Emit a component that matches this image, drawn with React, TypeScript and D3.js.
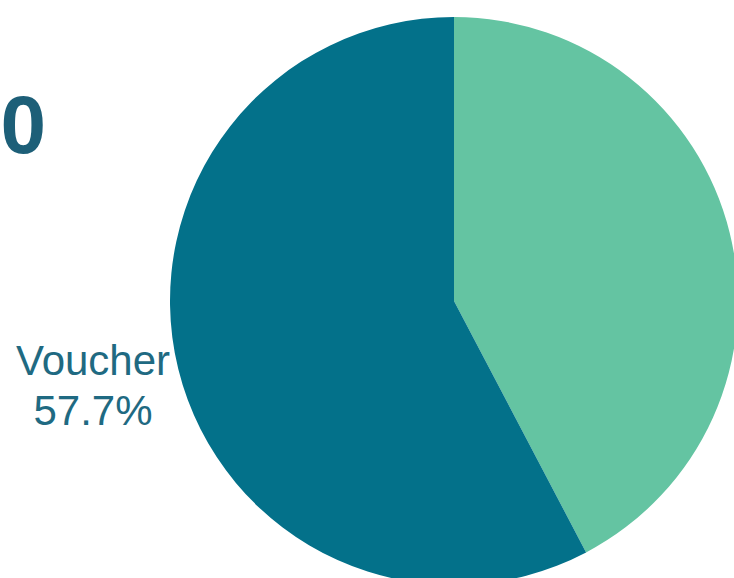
import * as d3 from 'd3';

const categories = ['Other', 'Voucher'];
const shares = [42.3, 57.7];
const colors = ['#64c4a2', '#03718a'];

const W = 734;
const H = 578;
const CX = 454;
const CY = 301;
const R = 284;

export default function App() {
  const pie = d3.pie<number>().sort(null).value((d) => d);
  const arcs = pie(shares);
  const arc = d3.arc<d3.PieArcDatum<number>>().innerRadius(0).outerRadius(R);

  return (
    <svg
      width={W}
      height={H}
      style={{ position: 'absolute', left: 0, top: 0, fontFamily: '"Liberation Sans", Arial, sans-serif' }}
    >
      <rect width={W} height={H} fill="#ffffff" />
      <g transform={`translate(${CX},${CY})`}>
        {arcs.map((a, i) => (
          <path key={categories[i]} d={arc(a) ?? ''} fill={colors[i]} />
        ))}
      </g>
      {/* title tail, cut off by the frame */}
      <text x={46} y={153} textAnchor="end" fontSize={82} fontWeight="bold" fill="#1d5f78">
        0
      </text>
      <text textAnchor="middle" fill="#1f6a82" fontSize={42}>
        <tspan x={93} y={375}>{categories[1]}</tspan>
        <tspan x={93} y={425}>{`${shares[1].toFixed(1)}%`}</tspan>
      </text>
    </svg>
  );
}
